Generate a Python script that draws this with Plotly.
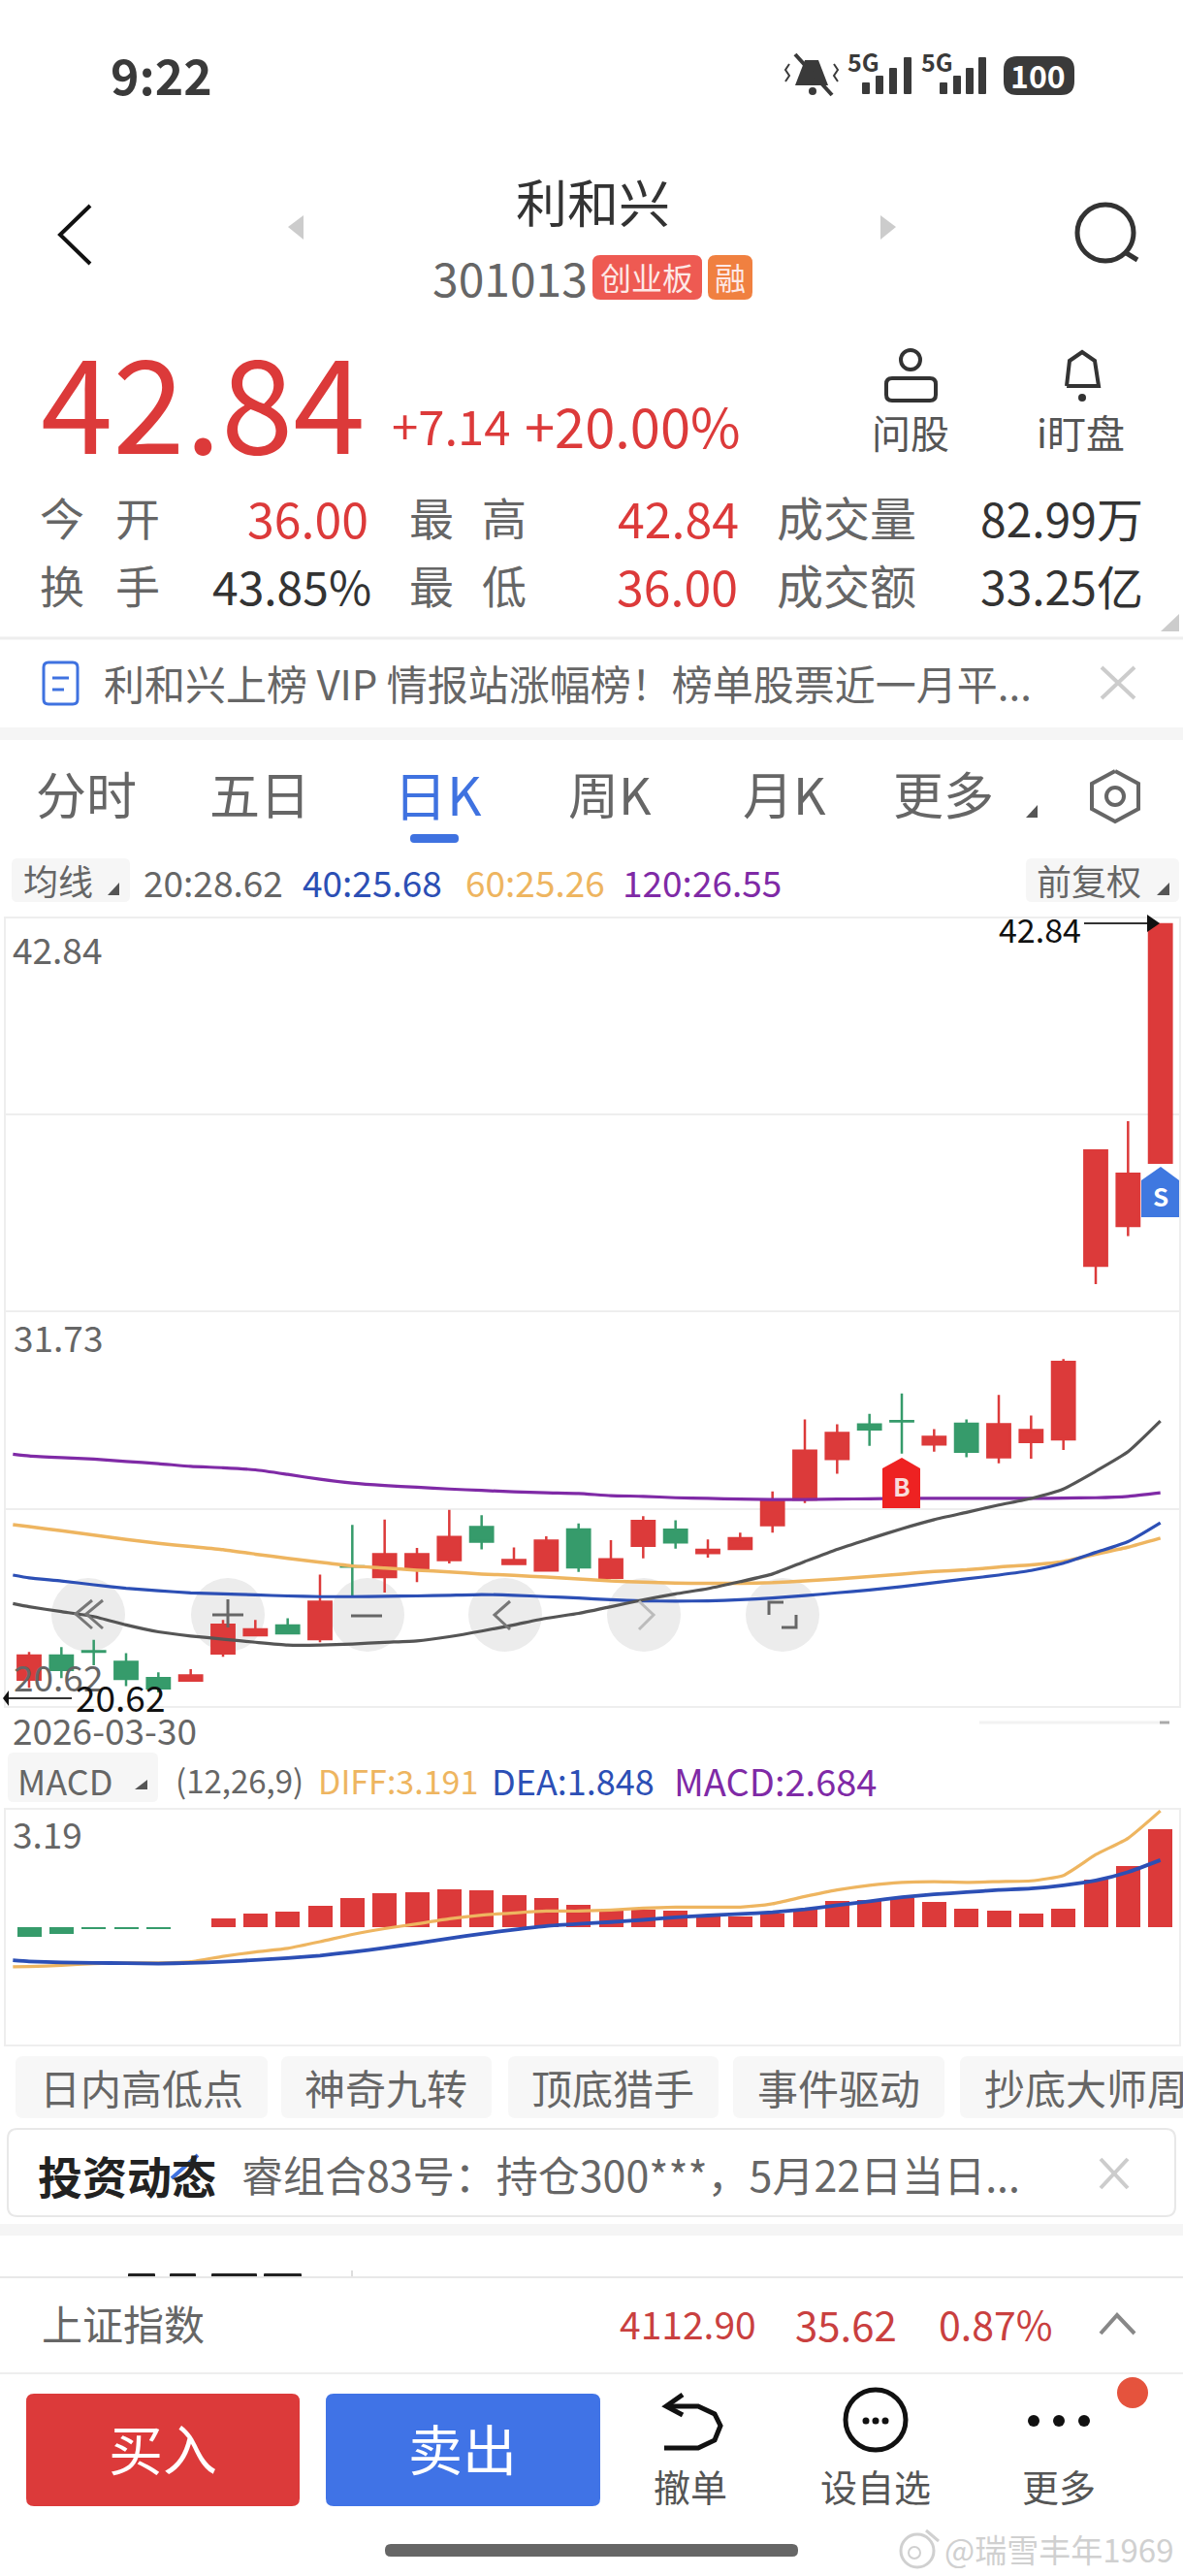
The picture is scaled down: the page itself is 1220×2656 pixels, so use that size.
import plotly.graph_objects as go

W, H = 1220, 2656
CJK = "Noto Sans CJK SC"

# ---- daily candles ----
days = list(range(36))
opens = [21.16, 21.85, 21.97, 21.67, 21.20, 21.13, 21.91, 22.43, 22.71, 22.32, 24.41, 24.10,
         24.34, 24.59, 25.54, 24.48, 24.29, 25.47, 24.08, 25.00, 25.46, 24.79, 24.91, 25.59,
         26.33, 27.49, 28.48, 28.58, 27.91, 28.50, 27.54, 27.98, 28.06, 33.04, 34.18, 36.00]
closes = [21.85, 21.44, 21.96, 21.18, 20.91, 21.28, 22.73, 22.60, 22.49, 23.39, 24.40, 24.76,
          24.76, 25.25, 25.12, 24.59, 25.15, 24.38, 24.61, 25.71, 25.10, 24.88, 25.22, 26.31,
          27.73, 28.24, 28.34, 28.57, 28.13, 27.70, 28.49, 28.32, 30.28, 36.35, 35.68, 42.84]
highs = [21.95, 22.09, 22.30, 21.92, 21.37, 21.46, 22.87, 22.87, 22.92, 24.17, 25.60, 25.75,
         24.94, 26.03, 25.88, 24.95, 25.27, 25.64, 25.16, 25.85, 25.73, 25.18, 25.38, 26.56,
         28.63, 28.49, 28.79, 29.37, 28.35, 28.63, 29.33, 28.74, 30.36, 36.35, 37.19, 42.84]
lows = [20.92, 21.20, 21.57, 20.97, 20.79, 21.11, 21.81, 22.43, 22.49, 22.23, 23.57, 23.66,
        23.96, 24.49, 24.90, 24.45, 24.29, 24.25, 24.08, 24.64, 24.92, 24.66, 24.91, 25.38,
        26.23, 27.07, 27.87, 27.65, 27.70, 27.54, 27.37, 27.50, 27.75, 32.51, 33.89, 36.00]

# moving averages and MACD lines start half a day before the first candle
line_days = [-0.5] + days
ma20 = [23.34, 23.25, 23.11, 22.97, 22.73, 22.53, 22.41, 22.32, 22.23, 22.15, 22.15, 22.18, 22.23,
        22.27, 22.39, 22.55, 22.73, 22.92, 23.06, 23.25, 23.45, 23.62, 23.77, 23.97, 24.19, 24.55,
        24.90, 25.20, 25.49, 25.75, 25.96, 26.17, 26.36, 26.63, 27.14, 27.70, 28.58]
ma40 = [24.16, 24.08, 23.99, 23.88, 23.78, 23.71, 23.65, 23.62, 23.59, 23.56, 23.54, 23.54, 23.55,
        23.56, 23.58, 23.60, 23.58, 23.54, 23.50, 23.45, 23.42, 23.41, 23.42, 23.45, 23.50, 23.57,
        23.65, 23.73, 23.83, 23.94, 24.05, 24.16, 24.29, 24.50, 24.81, 25.12, 25.66]
ma60 = [25.61, 25.55, 25.43, 25.31, 25.18, 25.07, 24.98, 24.89, 24.76, 24.64, 24.53, 24.42, 24.36,
        24.30, 24.25, 24.19, 24.15, 24.10, 24.05, 23.99, 23.96, 23.93, 23.92, 23.92, 23.94, 23.99,
        24.05, 24.12, 24.19, 24.26, 24.31, 24.39, 24.45, 24.55, 24.76, 24.96, 25.22]
ma120 = [27.63, 27.58, 27.53, 27.49, 27.42, 27.36, 27.28, 27.24, 27.18, 27.05, 26.91, 26.80, 26.73,
         26.68, 26.63, 26.59, 26.55, 26.52, 26.50, 26.44, 26.42, 26.38, 26.36, 26.34, 26.33, 26.33,
         26.34, 26.35, 26.36, 26.36, 26.36, 26.36, 26.36, 26.37, 26.38, 26.42, 26.52]

macd_hist = [-0.27, -0.19, -0.03, -0.03, -0.03, 0, 0.23, 0.37, 0.43, 0.58, 0.79, 0.92, 0.97, 1.03,
             1.00, 0.87, 0.79, 0.60, 0.49, 0.49, 0.44, 0.35, 0.28, 0.37, 0.49, 0.71, 0.75, 0.80,
             0.68, 0.50, 0.44, 0.37, 0.50, 1.31, 1.67, 2.68]
diff = [-1.09, -1.08, -1.05, -1.00, -0.98, -0.98, -0.95, -0.80, -0.68, -0.58, -0.40, -0.20, -0.04,
        0.09, 0.23, 0.33, 0.39, 0.44, 0.44, 0.47, 0.52, 0.55, 0.55, 0.55, 0.64, 0.84, 1.02, 1.15,
        1.23, 1.25, 1.23, 1.25, 1.27, 1.42, 1.99, 2.44, 3.19]
dea = [-0.91, -0.94, -0.97, -0.98, -0.99, -1.00, -0.98, -0.95, -0.90, -0.85, -0.78, -0.68, -0.57,
       -0.44, -0.31, -0.18, -0.07, 0.03, 0.09, 0.14, 0.20, 0.27, 0.32, 0.36, 0.41, 0.49, 0.60, 0.71,
       0.82, 0.90, 0.96, 1.02, 1.06, 1.15, 1.28, 1.51, 1.84]

price_grid = [37.38, 31.73, 26.05]

RED, GREEN = "#dc3a3a", "#369b6b"
BLUE_UI = "#3f72e0"
C_MA20, C_MA40, C_MA60, C_MA120 = "#555555", "#2c4fb5", "#eeb560", "#7f2aa6"
GREY_TXT = "#666666"


def px(x):
    return x / W


def py(y):
    return 1 - y / H


fig = go.Figure()

fig.add_trace(go.Candlestick(
    x=days, open=opens, high=highs, low=lows, close=closes,
    increasing=dict(line=dict(color=RED, width=2.5), fillcolor=RED),
    decreasing=dict(line=dict(color=GREEN, width=2.5), fillcolor=GREEN),
    whiskerwidth=0, showlegend=False,
))
for vals, col, lw in [(ma120, C_MA120, 3.2), (ma60, C_MA60, 3.5), (ma40, C_MA40, 3.2), (ma20, C_MA20, 3.2)]:
    fig.add_trace(go.Scatter(x=line_days, y=vals, mode="lines", showlegend=False,
                             line=dict(color=col, width=lw, shape="spline", smoothing=0.5)))

fig.add_trace(go.Bar(x=days, y=macd_hist, width=0.75, xaxis="x2", yaxis="y2", showlegend=False,
                     marker=dict(color=[RED if v >= 0 else GREEN for v in macd_hist], line_width=0)))
fig.add_trace(go.Scatter(x=line_days, y=diff, mode="lines", xaxis="x2", yaxis="y2", showlegend=False,
                         line=dict(color=C_MA60, width=3.2, shape="spline", smoothing=0.5)))
fig.add_trace(go.Scatter(x=line_days, y=dea, mode="lines", xaxis="x2", yaxis="y2", showlegend=False,
                         line=dict(color=C_MA40, width=3.8, shape="spline", smoothing=0.5)))

shapes = []


def rrect(x0, y0, x1, y1, fill, r=8, line=None, width=1, layer="above"):
    d = (f"M {px(x0 + r)} {py(y0)} L {px(x1 - r)} {py(y0)} Q {px(x1)} {py(y0)} {px(x1)} {py(y0 + r)} "
         f"L {px(x1)} {py(y1 - r)} Q {px(x1)} {py(y1)} {px(x1 - r)} {py(y1)} "
         f"L {px(x0 + r)} {py(y1)} Q {px(x0)} {py(y1)} {px(x0)} {py(y1 - r)} "
         f"L {px(x0)} {py(y0 + r)} Q {px(x0)} {py(y0)} {px(x0 + r)} {py(y0)} Z")
    shapes.append(dict(type="path", path=d, xref="paper", yref="paper", fillcolor=fill, layer=layer,
                       line=dict(color=line or "rgba(0,0,0,0)", width=width if line else 0)))


def poly(points, color, width=3, fill=None, layer="above"):
    d = "M " + " L ".join(f"{px(a)} {py(b)}" for a, b in points)
    if fill:
        d += " Z"
    shapes.append(dict(type="path", path=d, xref="paper", yref="paper", layer=layer,
                       fillcolor=fill or "rgba(0,0,0,0)",
                       line=dict(color=color, width=0 if fill else width)))


def circle(cx, cy, r, fill=None, line=None, width=3, layer="above"):
    shapes.append(dict(type="circle", xref="paper", yref="paper", layer=layer,
                       x0=px(cx - r), x1=px(cx + r), y0=py(cy + r), y1=py(cy - r),
                       fillcolor=fill or "rgba(0,0,0,0)",
                       line=dict(color=line or "rgba(0,0,0,0)", width=width if line else 0)))


def txt(s, x, y, size, color=GREY_TXT, anchor="left", bold=False, font=CJK):
    if bold:
        s = f"<b>{s}</b>"
    fig.add_annotation(text=s, x=px(x), y=py(y), xref="paper", yref="paper", showarrow=False,
                       xanchor=anchor, yanchor="middle", borderpad=0,
                       font=dict(family=font, size=size, color=color))


# status bar
txt("9:22", 113, 76, 50, "#3a3a3a", bold=True)
poly([(830, 62), (820, 88), (854, 88), (844, 62)], "#3a3a3a", fill="#3a3a3a")
poly([(820, 56), (858, 98)], "#3a3a3a", 4)
circle(838, 94, 4, fill="#3a3a3a")
poly([(814, 66), (810, 72), (814, 78), (810, 84)], "#3a3a3a", 2)
poly([(860, 66), (864, 72), (860, 78), (864, 84)], "#3a3a3a", 2)
txt("5G", 873, 63, 25, "#3a3a3a", bold=True)
txt("5G", 949, 63, 25, "#3a3a3a", bold=True)
for xs in ([893, 907, 921, 936], [973, 987, 1000, 1013]):
    for bar_x, top in zip(xs, [85, 78, 70, 59]):
        rrect(bar_x - 4, top, bar_x + 4, 97, "#3a3a3a", r=1)
rrect(1035, 58, 1108, 98, "#3a3a3a", r=14)
txt("100", 1070, 77, 32, "#ffffff", "center", True)

# header
poly([(93, 212), (62, 242), (93, 272)], "#111111", 4)
txt("利和兴", 611, 207, 53, "#333333", "center")
poly([(313, 222), (297, 234), (313, 247)], "#cccccc", fill="#cccccc")
poly([(908, 222), (924, 234), (908, 247)], "#cccccc", fill="#cccccc")
circle(1140, 240, 29, line="#333333", width=5)
poly([(1160, 260), (1173, 268)], "#333333", 5)
txt("301013", 445, 285, 48, GREY_TXT)
rrect(611, 263, 724, 309, "#ee5a52", r=8)
txt("创业板", 667, 285, 32, "#fde8e6", "center")
rrect(730, 263, 776, 309, "#f08040", r=8)
txt("融", 753, 285, 32, "#fde8e6", "center")

# quote
txt("42.84", 41, 410, 134, RED)
txt("+7.14", 403, 437, 49, RED)
txt("+20.00%", 540, 437, 56, RED)
circle(939, 371, 10, line="#333333", width=4)
rrect(914, 390, 965, 413, "rgba(0,0,0,0)", r=6, line="#333333", width=4)
txt("问股", 939, 445, 40, "#555555", "center")
poly([(1100, 398), (1103, 372), (1116, 363), (1129, 372), (1133, 398), (1100, 398)], "#333333", 4)
circle(1116, 410, 4, fill="#333333")
txt("i盯盘", 1114, 445, 40, "#555555", "center")

# stats rows
for ch, x, y in [("今", 64, 532), ("开", 142, 532), ("最", 445, 532), ("高", 520, 532),
                 ("换", 64, 602), ("手", 142, 602), ("最", 445, 602), ("低", 520, 602)]:
    txt(ch, x, y, 46, GREY_TXT, "center")
txt("成交量", 873, 532, 48, GREY_TXT, "center")
txt("成交额", 873, 602, 48, GREY_TXT, "center")
txt("36.00", 381, 533, 50, RED, "right")
txt("42.84", 763, 533, 50, RED, "right")
txt("82.99万", 1180, 533, 48, "#333333", "right")
txt("43.85%", 384, 603, 48, "#333333", "right")
txt("36.00", 762, 603, 50, RED, "right")
txt("33.25亿", 1180, 603, 48, "#333333", "right")
poly([(1216, 633), (1216, 651), (1197, 651)], "#cccccc", fill="#cccccc")
poly([(0, 658), (1220, 658)], "#eeeeee", 3)

# notice
rrect(45, 683, 80, 726, "#ffffff", r=5, line=BLUE_UI, width=3)
poly([(54, 699), (71, 699)], BLUE_UI, 3)
poly([(54, 711), (66, 711)], BLUE_UI, 3)
txt("利和兴上榜 VIP 情报站涨幅榜！榜单股票近一月平...", 106, 703, 42, GREY_TXT)
poly([(1136, 688), (1170, 720)], "#cccccc", 4)
poly([(1170, 688), (1136, 720)], "#cccccc", 4)
rrect(0, 750, 1220, 763, "#f5f5f5", r=0)

# tabs
for label, x in [("分时", 89), ("五日", 268), ("周K", 629), ("月K", 809), ("更多", 973)]:
    txt(label, x, 817, 52, GREY_TXT, "center")
txt("日K", 451, 817, 55, BLUE_UI, "center")
rrect(423, 860, 473, 869, BLUE_UI, r=4)
poly([(1058, 843), (1070, 843), (1070, 830)], "#555555", fill="#555555")
poly([(1150, 795), (1174, 808), (1174, 834), (1150, 847), (1126, 834), (1126, 808), (1150, 795)], "#666666", 4)
circle(1150, 821, 9, line="#666666", width=4)

# MA legend row
rrect(12, 885, 134, 930, "#f6f6f6", r=6)
txt("均线", 60, 907, 36, GREY_TXT, "center")
poly([(111, 923), (123, 923), (123, 910)], "#555555", fill="#555555")
txt("20:28.62", 147, 909, 37, GREY_TXT)
txt("40:25.68", 311, 909, 37, C_MA40)
txt("60:25.26", 479, 909, 37, C_MA60)
txt("120:26.55", 641, 909, 37, C_MA120)
rrect(1058, 885, 1216, 930, "#f6f6f6", r=6)
txt("前复权", 1123, 907, 36, GREY_TXT, "center")
poly([(1193, 923), (1206, 923), (1206, 910)], "#555555", fill="#555555")

# price panel labels
txt("42.84", 12, 978, 37, GREY_TXT)
txt("31.73", 13, 1378, 37, GREY_TXT)
txt("20.62", 13, 1728, 37, GREY_TXT)
txt("42.84", 1029, 958, 34, "#111111")
poly([(1118, 952), (1184, 952)], "#333333", 2)
poly([(1183, 943), (1196, 952), (1183, 961)], "#111111", fill="#111111")
txt("20.62", 77, 1749, 37, "#111111")
poly([(74, 1751), (9, 1751)], "#333333", 2)
poly([(9, 1743), (3, 1751), (9, 1759)], "#111111", fill="#111111")
txt("2026-03-30", 12, 1783, 37, GREY_TXT)
poly([(1010, 1776), (1196, 1776)], "#f2f2f2", 3)
poly([(1196, 1776), (1206, 1776)], "#aaaaaa", 3)

# buy / sell tags
poly([(1197, 1203), (1216, 1217), (1216, 1255), (1177, 1255), (1177, 1217)], "#3f78e0", fill="#3f78e0")
txt("S", 1197, 1232, 26, "#ffffff", "center", True)
poly([(930, 1503), (949, 1514), (949, 1555), (910, 1555), (910, 1514)], "#ee2222", fill="#ee2222")
txt("B", 930, 1532, 26, "#f8dcdc", "center", True)

# floating chart buttons
for cx in [91, 235, 379, 521, 664, 807]:
    circle(cx, 1665, 38, fill="#ececec", layer="below")
poly([(95, 1650), (78, 1664), (95, 1679)], "#777777", 3)
poly([(106, 1650), (89, 1664), (106, 1679)], "#777777", 3)
poly([(235, 1649), (235, 1678)], "#666666", 3)
poly([(219, 1665), (251, 1665)], "#666666", 3)
poly([(362, 1666), (394, 1666)], "#666666", 3)
poly([(526, 1651), (510, 1665), (526, 1680)], "#777777", 3)
poly([(659, 1651), (674, 1665), (659, 1680)], "#bbbbbb", 3)
poly([(793, 1665), (793, 1652), (808, 1652)], "#666666", 3)
poly([(806, 1678), (821, 1678), (821, 1665)], "#666666", 3)

# MACD row
rrect(8, 1807, 163, 1858, "#f6f6f6", r=6)
txt("MACD", 17, 1835, 36, GREY_TXT)
poly([(139, 1845), (152, 1845), (152, 1835)], "#555555", fill="#555555")
txt("(12,26,9)", 180, 1835, 33, GREY_TXT)
txt("DIFF:3.191", 327, 1835, 34, C_MA60)
txt("DEA:1.848", 506, 1835, 36, C_MA40)
txt("MACD:2.684", 694, 1835, 38, C_MA120)
txt("3.19", 12, 1890, 37, GREY_TXT)

# chips
for x0, x1 in [(16, 276), (290, 507), (524, 741), (756, 974), (990, 1230)]:
    rrect(x0, 2120, x1, 2184, "#f7f7f7", r=8)
txt("日内高低点", 146, 2151, 42, GREY_TXT, "center")
txt("神奇九转", 398, 2151, 42, GREY_TXT, "center")
txt("顶底猎手", 632, 2151, 42, GREY_TXT, "center")
txt("事件驱动", 865, 2151, 42, GREY_TXT, "center")
txt("抄底大师周", 1014, 2151, 42, GREY_TXT)

# investment card
rrect(8, 2195, 1212, 2285, "#ffffff", r=10, line="#e8e8e8", width=2)
txt("投资动态", 38, 2242, 46, "#222222", bold=True)
poly([(177, 2246), (204, 2222)], BLUE_UI, 4)
txt("睿组合83号：持仓300***，5月22日当日...", 248, 2241, 43, GREY_TXT)
poly([(1135, 2226), (1163, 2256)], "#cccccc", 4)
poly([(1163, 2226), (1135, 2256)], "#cccccc", 4)
rrect(0, 2293, 1220, 2305, "#f5f5f5", r=0)

# clipped row under the index bar
for x0, x1 in [(132, 160), (175, 202), (218, 265), (272, 311)]:
    rrect(x0, 2344, x1, 2348, "#222222", r=1)
poly([(363, 2341), (363, 2348)], "#dddddd", 2)
poly([(0, 2348), (1220, 2348)], "#e8e8e8", 2)

# index bar
txt("上证指数", 42, 2394, 42, GREY_TXT)
txt("4112.90", 638, 2395, 39, "#c9403f")
txt("35.62", 819, 2395, 42, "#c9403f")
txt("0.87%", 967, 2395, 41, "#c9403f")
poly([(1135, 2406), (1152, 2387), (1170, 2406)], "#888888", 4)
poly([(0, 2447), (1220, 2447)], "#eeeeee", 2)

# bottom buttons
rrect(27, 2468, 309, 2584, RED, r=8)
txt("买入", 168, 2522, 56, "#ffffff", "center")
rrect(336, 2468, 619, 2584, "#4073e6", r=8)
txt("卖出", 477, 2522, 56, "#ffffff", "center")
poly([(685, 2524), (720, 2524), (737, 2516), (743, 2501), (737, 2489), (720, 2481), (689, 2481)], "#111111", 5)
poly([(704, 2469), (687, 2481), (704, 2490)], "#111111", 5)
txt("撤单", 712, 2562, 38, "#555555", "center")
circle(903, 2495, 31, line="#111111", width=5)
for dx in (-10, 0, 10):
    circle(903 + dx, 2496, 3.5, fill="#111111")
txt("设自选", 903, 2562, 38, "#555555", "center")
for x in (1066, 1092, 1118):
    circle(x, 2496, 6, fill="#111111")
txt("更多", 1092, 2562, 38, "#555555", "center")
circle(1168, 2467, 16, fill="#e5533d")

# home bar and watermark
rrect(397, 2623, 823, 2636, "#666666", r=6)
circle(946, 2630, 17, line="#d0d0d0", width=3)
circle(943, 2632, 6, line="#d0d0d0", width=2)
poly([(955, 2609), (968, 2620)], "#d0d0d0", 3)
txt("@瑞雪丰年1969", 973, 2628, 33, "#d0d0d0")

fig.update_layout(
    width=W, height=H,
    margin=dict(l=0, r=0, t=0, b=0),
    paper_bgcolor="white",
    plot_bgcolor="rgba(0,0,0,0)",
    shapes=shapes,
    boxgap=0.3,
    boxgroupgap=0,
    bargap=0,
    showlegend=False,
    xaxis=dict(domain=[px(6), px(1216)], range=[-0.72, 35.58], rangeslider=dict(visible=False),
               showticklabels=False, showgrid=False, zeroline=False, ticks="",
               showline=True, mirror=True, linecolor="#eeeeee", linewidth=2),
    yaxis=dict(domain=[py(1759), py(947)], range=[20.40, 43.01], tickvals=price_grid,
               showticklabels=False, gridcolor="#eeeeee", gridwidth=2, zeroline=False, ticks="",
               showline=True, mirror=True, linecolor="#eeeeee", linewidth=2),
    xaxis2=dict(domain=[px(6), px(1216)], range=[-0.72, 35.58], anchor="y2",
                showticklabels=False, showgrid=False, zeroline=False, ticks="",
                showline=True, mirror=True, linecolor="#eeeeee", linewidth=2),
    yaxis2=dict(domain=[py(2108), py(1866)], range=[-3.22, 3.22], anchor="x2",
                showticklabels=False, showgrid=False, zeroline=False, ticks="",
                showline=True, mirror=True, linecolor="#eeeeee", linewidth=2),
)

fig.write_html("out.html", config={"displayModeBar": False},
               post_script="document.body.style.margin='0';")
